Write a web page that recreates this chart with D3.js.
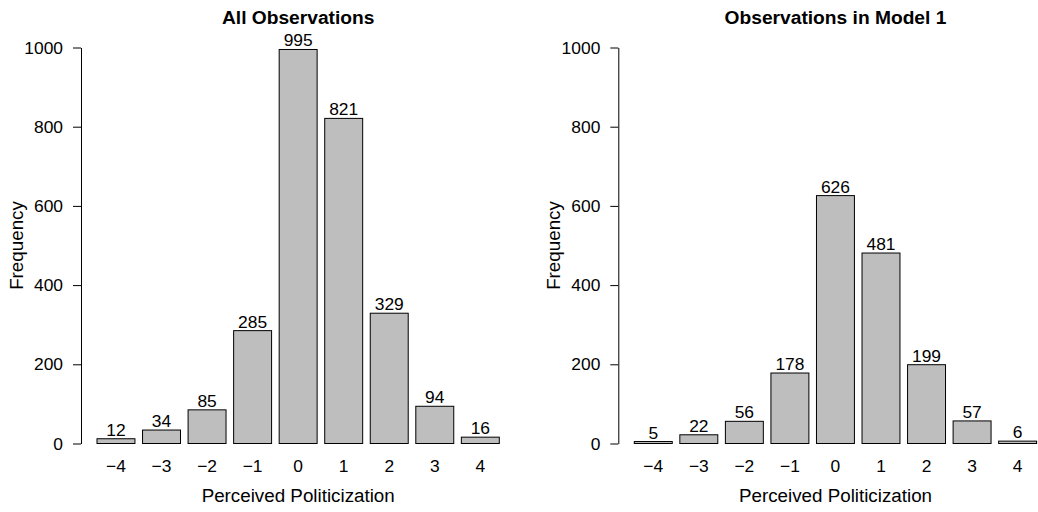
<!DOCTYPE html>
<meta charset="utf-8">
<head>
<style>
    body {margin: 0; background: #fff;}
    text {font-family: "Liberation Sans", Arial, sans-serif; fill: #000;}
</style>
<script src="https://d3js.org/d3.v7.min.js"></script>
</head>
<body>
    <div id="chart"></div>
<script>

var categories = [-4, -3, -2, -1, 0, 1, 2, 3, 4];
var allObs = [12, 34, 85, 285, 995, 821, 329, 94, 16];
var model1Obs = [5, 22, 56, 178, 626, 481, 199, 57, 6];
var yTicks = [0, 200, 400, 600, 800, 1000];
var titles = ["All Observations", "Observations in Model 1"];

var width = 1038;
var height = 512;
var barFill = "#bebebe";
var panelOffset = 537.3;
var numSize = "17.4px";
var labelSize = "18.8px";

var svg = d3.select("#chart")
    .append("svg")
    .attr("width", width)
    .attr("height", height);

function fmt(v) {
    return String(v).replace("-", "\u2212");
}

function panel(values, title, dx) {
    var g = svg.append("g").attr("transform", "translate(" + dx + ",0)");

    var x = d3.scaleBand()
        .domain(categories)
        .range([93.2, 503.1])
        .paddingInner(1 / 6)
        .paddingOuter(1 / 12);

    var y = d3.scaleLinear()
        .domain([0, 1000])
        .range([443.5, 47.5]);

    // y axis
    var yAxis = g.append("g")
        .attr("transform", "translate(81,0)")
        .call(d3.axisLeft(y).tickValues(yTicks).tickFormat(d3.format("d"))
            .tickSize(8).tickPadding(10).tickSizeOuter(0));
    yAxis.select(".domain").attr("stroke", "#000").attr("stroke-width", 1);
    yAxis.selectAll(".tick line").attr("stroke", "#000");
    yAxis.selectAll(".tick text")
        .style("font-size", numSize)
        .attr("fill", "#000")
        .attr("font-family", "Liberation Sans, Arial, sans-serif");

    // bars
    g.selectAll("rect.bar")
        .data(values)
        .enter().append("rect")
        .attr("class", "bar")
        .attr("x", function(d, i) { return x(categories[i]); })
        .attr("width", x.bandwidth())
        .attr("y", function(d) { return y(d); })
        .attr("height", function(d) { return y(0) - y(d); })
        .attr("fill", barFill)
        .attr("stroke", "#000")
        .attr("stroke-width", 1);

    // value labels
    g.selectAll("text.val")
        .data(values)
        .enter().append("text")
        .attr("class", "val")
        .attr("x", function(d, i) { return x(categories[i]) + x.bandwidth() / 2; })
        .attr("y", function(d) { return y(d) - 3; })
        .attr("text-anchor", "middle")
        .style("font-size", numSize)
        .text(function(d) { return d; });

    // category labels
    g.selectAll("text.cat")
        .data(categories)
        .enter().append("text")
        .attr("class", "cat")
        .attr("x", function(d) { return x(d) + x.bandwidth() / 2; })
        .attr("y", 472)
        .attr("text-anchor", "middle")
        .style("font-size", numSize)
        .text(function(d) { return fmt(d); });

    g.append("text")
        .attr("x", 298.2)
        .attr("y", 502)
        .attr("text-anchor", "middle")
        .style("font-size", labelSize)
        .text("Perceived Politicization");

    g.append("text")
        .attr("transform", "translate(23,245.5) rotate(-90)")
        .attr("text-anchor", "middle")
        .style("font-size", labelSize)
        .text("Frequency");

    g.append("text")
        .attr("x", 298.2)
        .attr("y", 23.5)
        .attr("text-anchor", "middle")
        .style("font-size", "19.2px")
        .style("font-weight", "bold")
        .text(title);
}

panel(allObs, titles[0], 0);
panel(model1Obs, titles[1], panelOffset);

</script>
</body>
